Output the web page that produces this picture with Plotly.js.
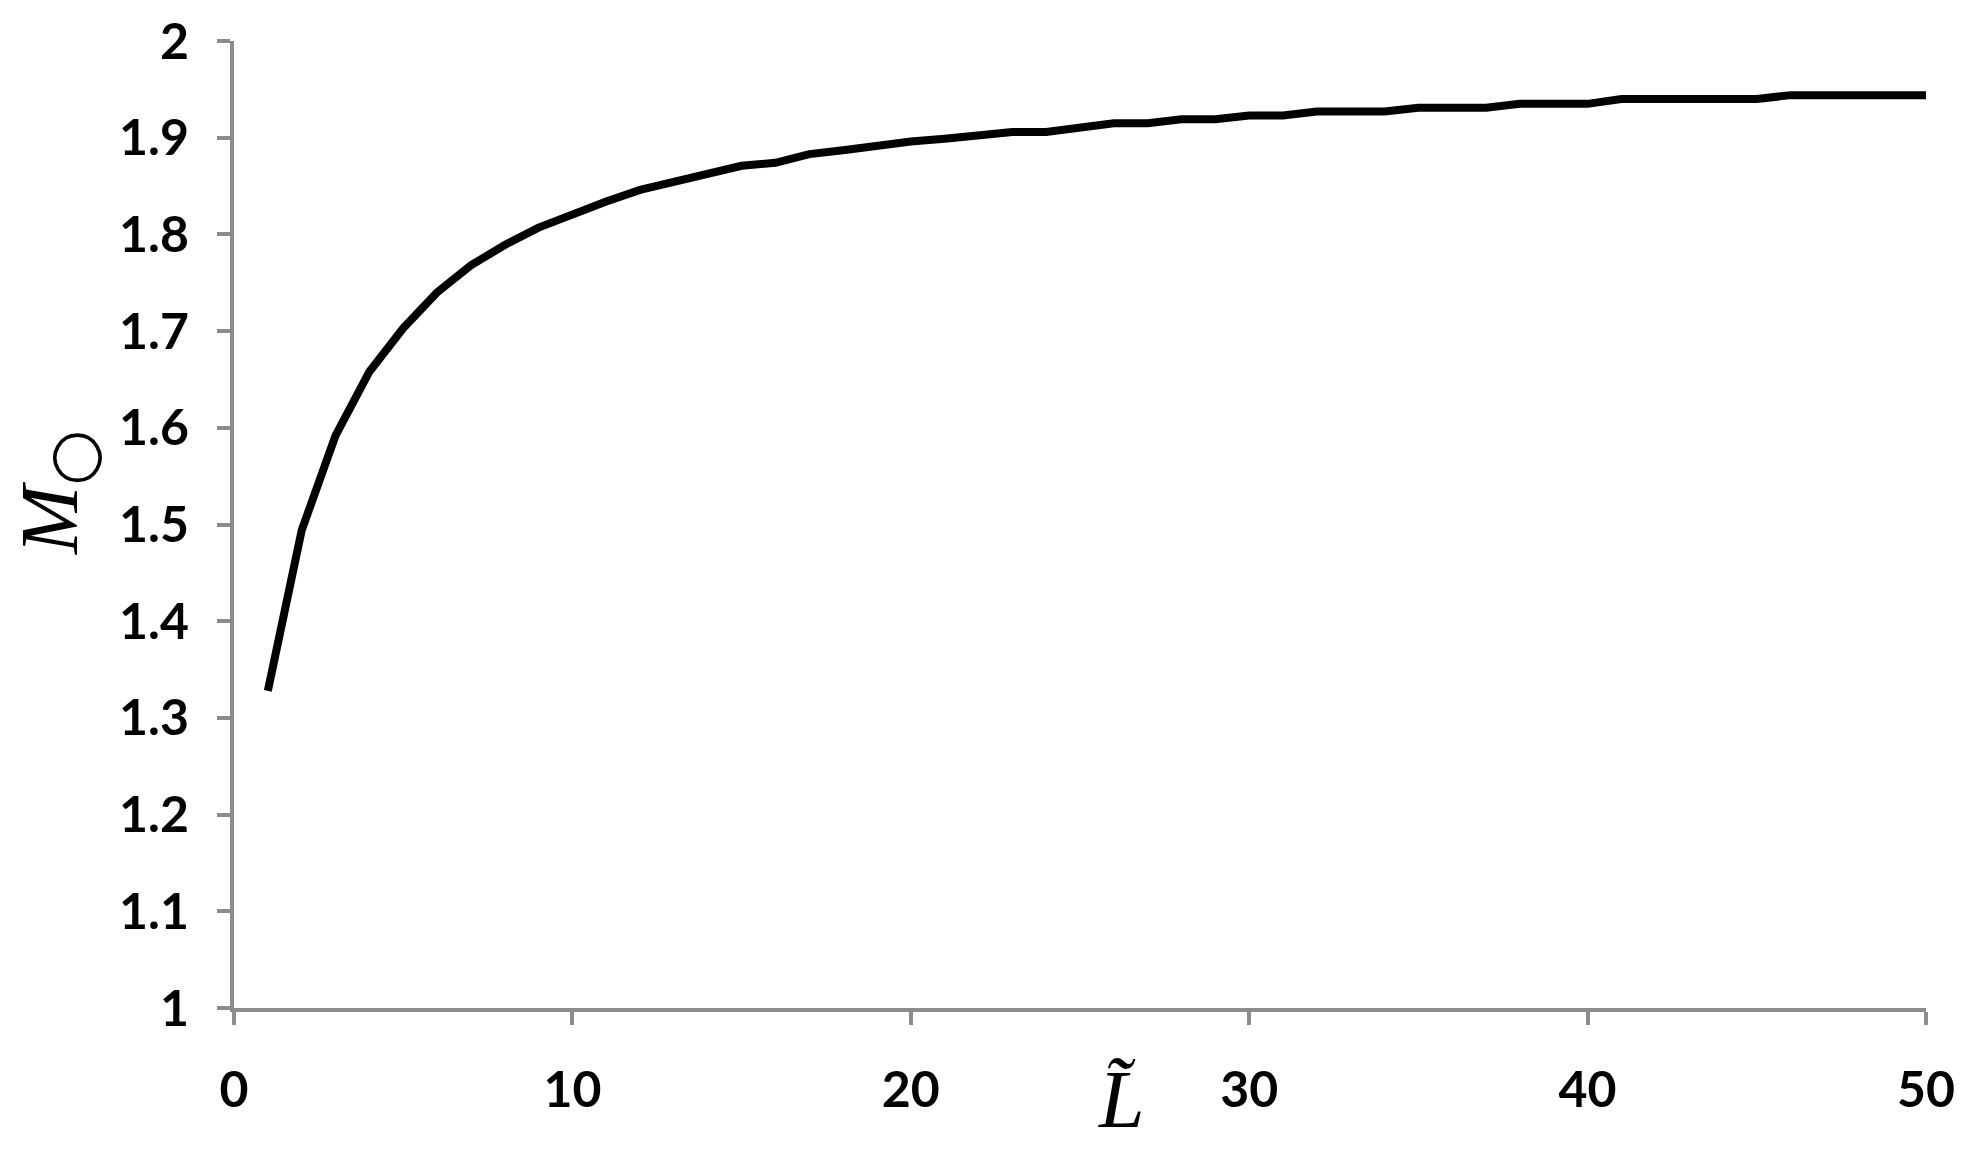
<!DOCTYPE html>
<html>
<head>
<meta charset="utf-8">
<script src="https://cdn.plot.ly/plotly-3.0.1.min.js"></script>
<style>
  html, body { margin: 0; padding: 0; background: #ffffff; }
  #chart { width: 1980px; height: 1160px; }
</style>
</head>
<body>
<div id="chart"></div>
<script>
// Data
const lValues = [
  1, 2, 3, 4, 5, 6, 7, 8, 9, 10,
  11, 12, 13, 14, 15, 16, 17, 18, 19, 20,
  21, 22, 23, 24, 25, 26, 27, 28, 29, 30,
  31, 32, 33, 34, 35, 36, 37, 38, 39, 40,
  41, 42, 43, 44, 45, 46, 47, 48, 49, 50
];
const mValues = [
  1.328, 1.494, 1.592, 1.658, 1.703, 1.740, 1.768, 1.789, 1.807, 1.821,
  1.834, 1.846, 1.854, 1.863, 1.871, 1.874, 1.883, 1.887, 1.892, 1.896,
  1.899, 1.902, 1.906, 1.906, 1.911, 1.915, 1.915, 1.919, 1.919, 1.923,
  1.923, 1.927, 1.927, 1.927, 1.931, 1.931, 1.931, 1.935, 1.935, 1.935,
  1.940, 1.940, 1.940, 1.940, 1.940, 1.944, 1.944, 1.944, 1.944, 1.944
];
const xTickVals = [0, 10, 20, 30, 40, 50];
const yTickVals = [1, 1.1, 1.2, 1.3, 1.4, 1.5, 1.6, 1.7, 1.8, 1.9, 2];
const yTickText = ['1', '1.1', '1.2', '1.3', '1.4', '1.5', '1.6', '1.7', '1.8', '1.9', '2'];
const xTitle = '<i>L\u0303</i>';
const yTitle = '<i>M</i><sub><span style="font-family:\'DejaVu Sans\';font-size:64px">\u25CB</span></sub>';

const axisColor = '#8c8c8c';
const tickFont = { family: 'Lato, "Liberation Sans", sans-serif', size: 50, color: '#000000', weight: 700 };
const titleFont = { family: '"Liberation Serif", "Times New Roman", serif', size: 82, color: '#000000' };

const trace = {
  x: lValues,
  y: mValues,
  type: 'scatter',
  mode: 'lines',
  line: { color: '#000000', width: 8 },
  hoverinfo: 'x+y',
  showlegend: false
};

const layout = {
  width: 1980,
  height: 1160,
  paper_bgcolor: '#ffffff',
  plot_bgcolor: '#ffffff',
  margin: { l: 234, r: 54, t: 41, b: 152 },
  xaxis: {
    range: [0, 50],
    tickvals: xTickVals,
    ticktext: xTickVals.map(String),
    showgrid: false,
    zeroline: false,
    showline: true,
    linecolor: axisColor,
    linewidth: 4,
    ticks: 'outside',
    ticklen: 13,
    tickwidth: 4,
    tickcolor: axisColor,
    tickfont: tickFont,
    ticklabelstandoff: 22
  },
  yaxis: {
    range: [1, 2],
    tickvals: yTickVals,
    ticktext: yTickText,
    showgrid: false,
    zeroline: false,
    showline: true,
    linecolor: axisColor,
    linewidth: 4,
    ticks: 'outside',
    ticklen: 13,
    tickwidth: 4,
    tickcolor: axisColor,
    tickfont: tickFont,
    ticklabelstandoff: 18
  },
  annotations: [
    {
      text: xTitle,
      xref: 'paper', yref: 'paper',
      x: 0.5245, y: -0.095,
      xanchor: 'center', yanchor: 'middle',
      showarrow: false,
      font: titleFont
    },
    {
      text: yTitle,
      xref: 'paper', yref: 'paper',
      x: -0.1046, y: 0.5326,
      xanchor: 'center', yanchor: 'middle',
      textangle: -90,
      showarrow: false,
      font: titleFont
    }
  ]
};

Plotly.newPlot('chart', [trace], layout, { displayModeBar: false, staticPlot: true });
</script>
</body>
</html>
